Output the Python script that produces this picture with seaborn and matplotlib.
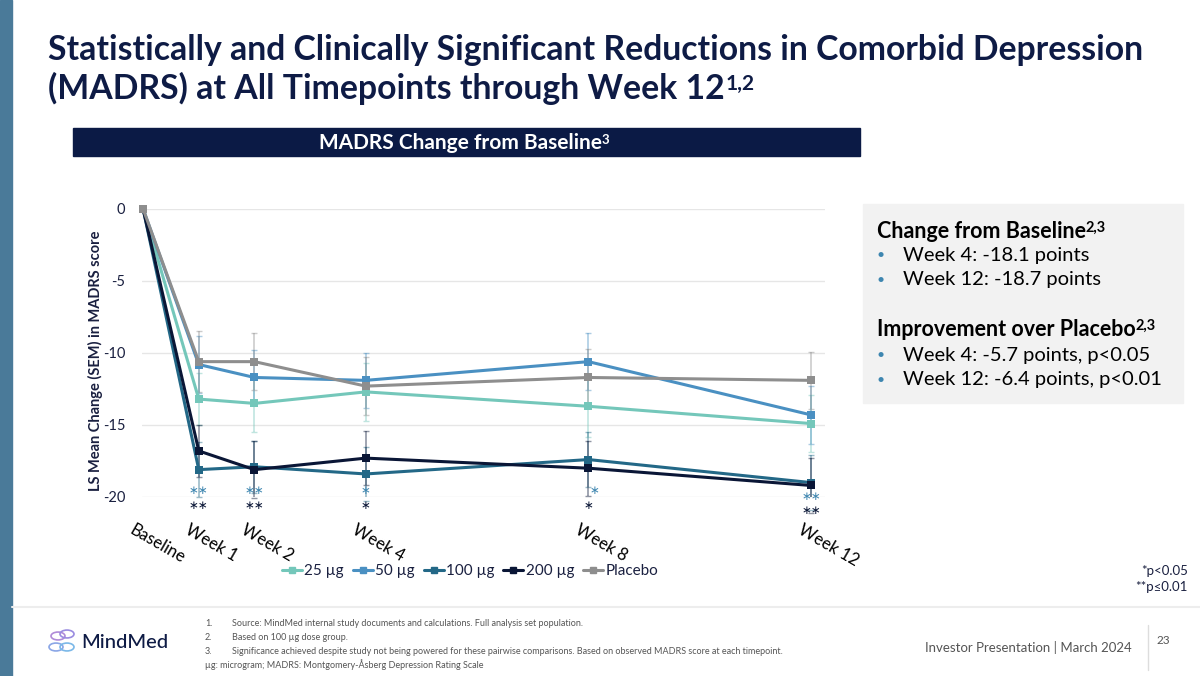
import matplotlib
matplotlib.use("Agg")
import matplotlib.pyplot as plt
import matplotlib.patches as mpatches
import matplotlib.lines as mlines
from matplotlib.transforms import ScaledTranslation
import numpy as np
import pandas as pd
import seaborn as sns

# ---------------- data ----------------
weeks = [0, 1, 2, 4, 8, 12]
tick_labels = ["Baseline", "Week 1", "Week 2", "Week 4", "Week 8", "Week 12"]
doses = ["25 µg", "50 µg", "100 µg", "200 µg", "Placebo"]
m25 = [0, -13.2, -13.5, -12.7, -13.7, -14.9]
m50 = [0, -10.8, -11.7, -11.9, -10.6, -14.3]
m100 = [0, -18.1, -17.9, -18.4, -17.4, -19.0]
m200 = [0, -16.8, -18.1, -17.3, -18.0, -19.2]
mpl_ = [0, -10.6, -10.6, -12.3, -11.7, -11.9]
s25 = [0, 1.8, 2.0, 2.0, 2.1, 2.0]
s50 = [0, 2.0, 1.9, 1.9, 2.0, 2.0]
s100 = [0, 1.9, 1.8, 1.9, 1.9, 1.9]
s200 = [0, 1.8, 2.0, 1.9, 1.9, 1.9]
spl = [0, 2.1, 2.0, 2.0, 2.0, 2.0]
sig_top = ["", "**", "**", "*", "*", "**"]
sig_bottom = ["", "**", "**", "*", "*", "**"]

means = [m25, m50, m100, m200, mpl_]
sems = [s25, s50, s100, s200, spl]
colors = ["#74C7BA", "#4A90C2", "#236887", "#0A1636", "#8E8E8E"]

rows = []
for d, m, s in zip(doses, means, sems):
    for w, v, e in zip(weeks, m, s):
        rows.append({"week": w, "change": v, "sem": e, "dose": d})
df = pd.DataFrame(rows)

# ---------------- figure ----------------
sns.set_theme(style="white")
plt.rcParams["font.family"] = ["Lato", "DejaVu Sans"]
W, H = 1200, 676
fig = plt.figure(figsize=(12, 6.76), dpi=100)
fig.patch.set_facecolor("white")

def fx(x):
    return x / W

def fy(y):
    return 1 - y / H

navy = "#0E1B45"

# left bar
fig.patches.append(mpatches.Rectangle((0, 0), fx(12), 1, transform=fig.transFigure,
                                      color="#4A7A99", zorder=0))

# title
fig.text(fx(48), fy(50), "Statistically and Clinically Significant Reductions in Comorbid Depression",
         fontsize=24.3, fontweight="bold", color=navy, va="center", ha="left")
t2 = fig.text(fx(48), fy(88), "(MADRS) at All Timepoints through Week 12",
              fontsize=24.3, fontweight="bold", color=navy, va="center", ha="left")

# banner
fig.patches.append(mpatches.Rectangle((fx(73), fy(156)), fx(860 - 73), (156 - 128) / H,
                                      transform=fig.transFigure, color="#0B1A45", zorder=1))
bt = fig.text(fx(460), fy(143), "MADRS Change from Baseline", fontsize=15, fontweight="bold",
              color="white", va="center", ha="center", zorder=2)

# right info box
fig.patches.append(mpatches.Rectangle((fx(863), fy(403)), fx(1183 - 863), (403 - 204) / H,
                                      transform=fig.transFigure, color="#F2F2F2", zorder=1))
h1 = fig.text(fx(877), fy(231), "Change from Baseline", fontsize=15.5, fontweight="bold",
              color="black", va="center", ha="left", zorder=2)
h2 = fig.text(fx(877), fy(329), "Improvement over Placebo", fontsize=15.5, fontweight="bold",
              color="black", va="center", ha="left", zorder=2)
bullets = [(255, "Week 4: -18.1 points"), (280, "Week 12: -18.7 points"),
           (355, "Week 4: -5.7 points, p<0.05"), (380, "Week 12: -6.4 points, p<0.01")]
for y, txt in bullets:
    fig.text(fx(876), fy(y), "•", fontsize=10, color="#3E86B0", va="center", ha="left", zorder=2)
    fig.text(fx(903), fy(y), txt, fontsize=14.5, color="black", va="center", ha="left", zorder=2)

# ---------------- chart ----------------
ax = fig.add_axes([fx(142), fy(497), fx(825 - 142), (497 - 209) / H])
for i, (d, m, s, c) in enumerate(zip(doses, means, sems, colors)):
    ax.errorbar(weeks[1:], m[1:], yerr=s[1:], fmt="none", ecolor=c, alpha=0.45,
                elinewidth=1.2, capsize=2.5, capthick=1, zorder=1)
sns.lineplot(data=df, x="week", y="change", hue="dose", hue_order=doses,
             palette=colors, marker="s", markersize=6, markeredgewidth=0,
             linewidth=2.2, ax=ax, legend=False, zorder=3)
for ln in ax.lines:
    ln.set_clip_on(False)

ax.set_xlim(-0.02, 12.25)
ax.set_ylim(-20, 0)
ax.set_yticks([0, -5, -10, -15, -20])
ax.set_yticklabels(["0", "-5", "-10", "-15", "-20"], fontsize=10.5, color="#1A2040")
ax.tick_params(axis="y", length=0, pad=12)
ax.yaxis.grid(True, color="#E6E6E6", linewidth=1)
ax.xaxis.grid(False)
for sp in ax.spines.values():
    sp.set_visible(False)
ax.set_xlabel("")
ax.set_ylabel("")
ax.set_xticks(weeks)
ax.set_xticklabels(tick_labels, rotation=-30, ha="left", va="top",
                   rotation_mode="anchor", fontsize=12, color="black")
ax.tick_params(axis="x", length=0, pad=18)
off = ScaledTranslation(-8 / 100, 0, fig.dpi_scale_trans)
for lab in ax.get_xticklabels():
    lab.set_transform(lab.get_transform() + off)

# significance markers (pixel-based offsets from the -20 gridline)
px = 1 / 14.4  # data units per pixel on the y axis
for w, t, b in zip(weeks, sig_top, sig_bottom):
    dx = 0.1 if w == 8 else 0
    if t:
        yt = -20 + (6 if w != 12 else 0) * px
        ax.text(w + dx, yt, t.replace("*", "\u2217"), ha="center", va="center", fontsize=8.5,
                color="#3E86B0", clip_on=False, family="DejaVu Sans")
    if b:
        yb = -20 - (14 if w == 12 else 8) * px
        ax.text(w, yb, b.replace("*", "\u2217"), ha="center", va="center", fontsize=8.5,
                color="#0A1636", clip_on=False, family="DejaVu Sans")

# y label
fig.text(fx(95), fy(361), "LS Mean Change (SEM) in MADRS score", rotation=90,
         fontsize=10.5, fontweight="bold", color="#1A2040", va="center", ha="center")

# legend
handles = [mlines.Line2D([], [], color=c, marker="s", markersize=4, linewidth=2.2)
           for c in colors]
fig.legend(handles, doses, loc="center", bbox_to_anchor=(fx(470), fy(571)), ncol=5,
           frameon=False, fontsize=11, handlelength=1.3, handletextpad=0.15,
           columnspacing=0.6, labelcolor="#1A2040")

fig.text(fx(1188), fy(571), "*p<0.05", fontsize=9.5, color="#1A2040", ha="right", va="center")
fig.text(fx(1188), fy(587), "**p≤0.01", fontsize=9.5, color="#1A2040", ha="right", va="center")

# footer
fig.add_artist(mlines.Line2D([fx(12), 1], [fy(607), fy(607)], color="#EDEDED", linewidth=1.5,
                             transform=fig.transFigure))
notes = ["Source: MindMed internal study documents and calculations. Full analysis set population.",
         "Based on 100 µg dose group.",
         "Significance achieved despite study not being powered for these pairwise comparisons. Based on observed MADRS score at each timepoint."]
for i, (y, n) in enumerate(zip([624, 638, 651], notes)):
    fig.text(fx(205), fy(y), f"{i + 1}.", fontsize=6.5, color="#555555", va="center", ha="left")
    fig.text(fx(232), fy(y), n, fontsize=6.5, color="#555555", va="center", ha="left")
fig.text(fx(205), fy(665), "µg: microgram; MADRS: Montgomery-Åsberg Depression Rating Scale",
         fontsize=6.5, color="#555555", va="center", ha="left")

# logo (simple brain-ish glyph)
for (cx, cy, r, c) in [(58, 636, 7, "#B08BD8"), (67, 634, 7, "#9A8CE0"),
                       (56, 647, 7, "#8AA6E6"), (67, 647, 7, "#7BB8E8")]:
    fig.patches.append(mpatches.Circle((fx(cx), fy(cy)), r / W, transform=fig.transFigure,
                                       fill=False, edgecolor=c, linewidth=1.2))
fig.text(fx(81), fy(642), "MindMed", fontsize=14.5, color=navy, va="center", ha="left",
         fontweight="medium")
fig.text(fx(1132), fy(648), "Investor Presentation | March 2024", fontsize=9.5,
         color="#555555", va="center", ha="right")
fig.add_artist(mlines.Line2D([fx(1148), fx(1148)], [fy(625), fy(670)], color="#DDDDDD",
                             linewidth=1, transform=fig.transFigure))
fig.text(fx(1163), fy(641), "23", fontsize=8.5, color="#555555", va="center", ha="center")

# superscripts
fig.canvas.draw()
r = fig.canvas.get_renderer()

def add_sup(t, s, size, dy, color, gap=0.001):
    bb = t.get_window_extent(r)
    fig.text(bb.x1 / fig.bbox.width + gap, (bb.y1 - dy) / fig.bbox.height, s,
             fontsize=size, fontweight="bold", color=color, va="top", ha="left", zorder=3)

add_sup(t2, "1,2", 15, 3, navy)
add_sup(bt, "3", 9.5, 1, "white", 0.0)
add_sup(h1, "2,3", 10.5, 0, "black", 0.0)
add_sup(h2, "2,3", 10.5, 0, "black", 0.0)

fig.savefig("out.png", dpi=100)
